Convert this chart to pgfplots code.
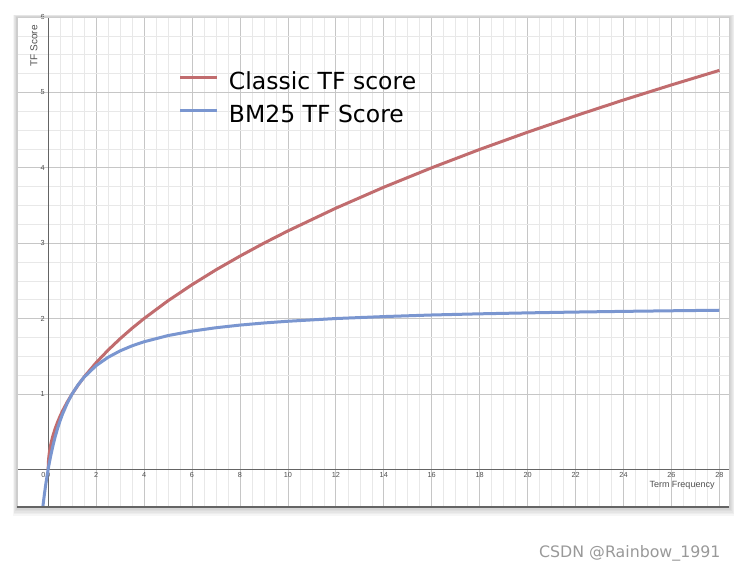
\documentclass[border=0pt]{standalone}
\usepackage{fontspec}
\setmainfont{Liberation Sans}
\newfontfamily\dejavu{DejaVu Sans}
\usepackage{pgfplots}
\pgfplotsset{compat=1.18}
\definecolor{redc}{RGB}{193,108,110}
\definecolor{bluec}{RGB}{122,150,208}
\definecolor{majgrid}{RGB}{198,198,198}
\definecolor{mingrid}{RGB}{232,232,232}
\definecolor{axc}{RGB}{100,100,100}
\definecolor{tickc}{RGB}{80,80,80}
\definecolor{framec}{RGB}{205,205,205}
\begin{document}
\begin{tikzpicture}
\path[use as bounding box] (0bp,0bp) rectangle (740bp,576bp);
\foreach \i in {1,...,6} {
  \fill[black, opacity=0.035] (17bp-\i*0.7bp, 69bp-\i*1.5bp) rectangle (729bp+\i*0.9bp, 559bp+\i*0.4bp);
}
\fill[white] (17bp,69bp) rectangle (729bp,559bp);
\begin{axis}[
  at={(17bp,69bp)}, anchor=south west, scale only axis,
  width=712bp, height=490bp,
  xmin=-1.3, xmax=28.4, ymin=-0.5, ymax=6.0,
  axis lines=middle, axis line style={-, axc, line width=1.3bp},
  xtick={0,2,...,28}, ytick={1,...,6},
  minor x tick num=3, minor y tick num=3,
  grid=both,
  major grid style={majgrid, line width=0.7bp},
  minor grid style={mingrid, line width=0.6bp},
  major tick length=0pt, minor tick length=0pt,
  hide obscured x ticks=false,
  ticklabel style={font=\fontsize{7.3bp}{8bp}\selectfont, text=tickc},
  /pgf/number format/assume math mode=true,
  legend style={at={(0.2275,0.888)}, anchor=north west, draw=none, fill=none,
    inner sep=0pt, outer sep=0pt,
    font=\dejavu\fontsize{23.5bp}{28bp}\selectfont,
    row sep=8.5bp, column sep=10bp,
    nodes={inner sep=0pt, text height=18bp, text depth=6bp}},
  legend cell align=left,
  legend image code/.code={\path (0bp,0bp); \draw[#1, line width=3bp] (0bp,6bp) -- (37bp,6bp);},
]
\addplot[redc, line width=3bp] coordinates {
(0,0) (0.01,0.1) (0.025,0.158) (0.05,0.224) (0.1,0.316) (0.15,0.387) (0.2,0.447)
(0.3,0.548) (0.4,0.632) (0.5,0.707) (0.6,0.775) (0.8,0.894) (1,1) (1.25,1.118)
(1.5,1.225) (2,1.414) (2.5,1.581) (3,1.732) (3.5,1.871) (4,2) (5,2.236) (6,2.449)
(7,2.646) (8,2.828) (9,3) (10,3.162) (12,3.464) (14,3.742) (16,4) (18,4.243)
(20,4.472) (22,4.690) (24,4.899) (26,5.099) (28,5.292)
};
\addlegendentry{Classic TF score}
\addplot[bluec, line width=3bp] coordinates {
(-0.23,-0.522) (-0.2,-0.44) (-0.15,-0.314) (-0.1,-0.2) (-0.05,-0.0957) (0,0)
(0.05,0.088) (0.1,0.169) (0.2,0.314) (0.3,0.44) (0.4,0.55) (0.5,0.647) (0.6,0.733)
(0.8,0.88) (1,1) (1.25,1.122) (1.5,1.222) (2,1.375) (2.5,1.486) (3,1.571)
(3.5,1.638) (4,1.692) (5,1.774) (6,1.833) (7,1.878) (8,1.913) (9,1.941)
(10,1.964) (12,2.0) (14,2.026) (16,2.047) (18,2.0625) (20,2.075) (22,2.086)
(24,2.095) (26,2.103) (28,2.110)
};
\addlegendentry{BM25 TF Score}
\node[anchor=north, font=\fontsize{7.3bp}{8bp}\selectfont, text=tickc, inner sep=2.4bp]
  at (axis cs:-0.2,0) {0};
\node[rotate=90, anchor=east, font=\fontsize{10bp}{11bp}\selectfont, text=tickc]
  at (rel axis cs:0.0239,0.99) {TF Score};
\node[anchor=east, font=\fontsize{9bp}{10bp}\selectfont, text=tickc]
  at (rel axis cs:0.9846,0.0449) {Term Frequency};
\end{axis}
\draw[framec, line width=0.8bp] (17bp,69bp) rectangle (729bp,559bp);
\draw[axc, line width=1.5bp] (17bp,69bp) -- (729bp,69bp);
\node[anchor=base east, font=\dejavu\fontsize{15.8bp}{17bp}\selectfont, text=black!40]
  at (724bp,19bp) {CSDN @Rainbow\_1991};
\end{tikzpicture}
\end{document}
